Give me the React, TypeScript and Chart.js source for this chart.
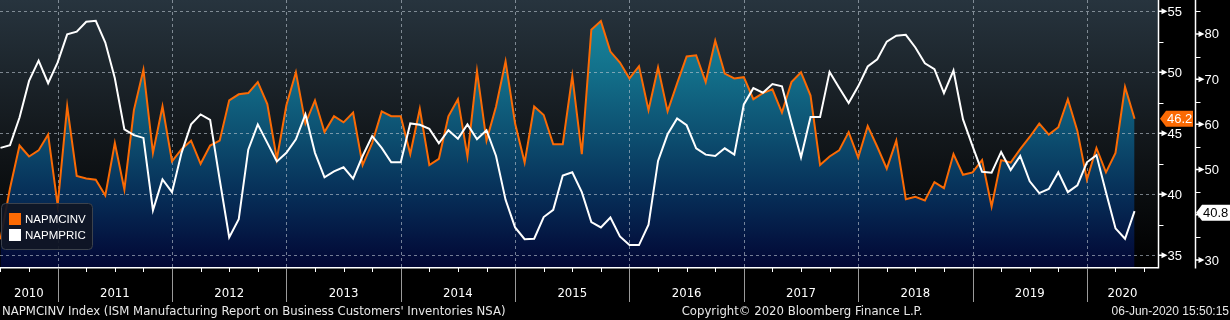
import React, { useEffect, useRef } from 'react';
import { Chart, registerables } from 'chart.js';

Chart.register(...registerables);

// First plotted month: June 2010 (month-end points)
const START_YEAR = 2010;
const START_MONTH = 6;

// NAPMCINV – ISM Customers' Inventories (inner right axis)
const napmcinv = [
  36.3, 40.5, 44.0, 43.1, 43.6, 44.9, 39.1, 47.2, 41.5, 41.3, 41.2, 39.9, 44.2, 40.4, 46.9, 50.2, 43.4, 47.2, 42.7, 43.7,
  44.4, 42.5, 44.0, 44.4, 47.7, 48.2, 48.3, 49.2, 47.4, 42.9, 47.3, 50.0, 45.8, 47.7, 45.1, 46.4, 45.9, 46.7, 42.4, 44.2,
  46.8, 46.4, 46.4, 43.3, 47.0, 42.4, 42.9, 46.4, 47.8, 43.1, 50.1, 44.4, 47.2, 50.9, 45.8, 42.6, 47.2, 46.5, 44.1, 44.1,
  49.7, 43.3, 53.5, 54.2, 51.7, 50.8, 49.5, 50.5, 46.9, 50.4, 46.8, 49.1, 51.3, 51.4, 49.2, 52.6, 49.9, 49.5, 49.6, 47.8,
  48.3, 48.6, 46.7, 49.2, 50.0, 48.1, 42.4, 43.1, 43.6, 45.1, 43.0, 45.6, 43.9, 42.1, 44.4, 39.6, 39.8, 39.5, 41.0, 40.5,
  43.3, 41.6, 41.8, 42.8, 39.0, 42.8, 42.6, 43.7, 44.7, 45.8, 44.9, 45.5, 47.8, 45.2, 41.2, 43.8, 41.8, 43.4, 48.8, 46.2,
];

// NAPMPRIC – ISM Prices Paid (outer right axis)
const napmpric = [
  54.8, 55.4, 61.5, 69.6, 74.1, 69.1, 73.7, 79.9, 80.5, 82.7, 82.9, 78.1, 70.2, 58.9, 57.6, 57.0, 41.0, 47.8, 45.0, 53.7,
  60.0, 62.2, 61.0, 47.8, 35.0, 39.0, 54.4, 60.0, 55.9, 51.8, 53.7, 56.7, 62.2, 53.7, 48.3, 49.6, 50.5, 48.0, 53.0, 57.4,
  54.8, 51.6, 51.6, 60.2, 59.9, 59.0, 55.8, 58.7, 56.8, 60.0, 56.7, 58.7, 53.0, 43.3, 37.2, 34.6, 34.7, 39.5, 41.1, 48.7,
  49.4, 45.0, 38.4, 37.2, 39.4, 35.2, 33.3, 33.3, 37.8, 51.9, 57.8, 61.3, 59.8, 54.7, 53.3, 53.0, 54.7, 53.3, 64.4, 68.0,
  67.0, 68.9, 68.4, 60.4, 52.7, 61.6, 61.6, 71.6, 68.1, 64.7, 68.4, 72.8, 74.4, 78.3, 79.6, 79.8, 77.0, 73.5, 72.2, 66.9,
  71.9, 61.1, 55.2, 49.5, 49.3, 53.9, 49.9, 53.0, 47.4, 44.8, 45.7, 49.4, 45.0, 46.5, 51.6, 53.2, 45.0, 37.0, 34.7, 40.8,
];

const yearLabels = ['2010', '2011', '2012', '2013', '2014', '2015', '2016', '2017', '2018', '2019', '2020'];
const invTicks = [35, 40, 45, 50, 55];
const invMinorTicks = [37.5, 42.5, 47.5, 52.5];
const priTicks = [30, 40, 50, 60, 70, 80];
const priMinorTicks = [35, 45, 55, 65, 75, 85];

const seriesNames = ['NAPMCINV', 'NAPMPRIC'];
const footerLeft = "NAPMCINV Index (ISM Manufacturing Report on Business Customers' Inventories NSA)";
const footerMid = 'Copyright\u00A9 2020 Bloomberg Finance L.P.';
const footerRight = '06-Jun-2020 15:50:15';

// month index (Jan 2010 = 1), point at month end
const monthIndex = napmcinv.map((_, i) => (START_YEAR - 2010) * 12 + START_MONTH + i);

const X_MIN = 5.95;
const X_MAX = 127.46;

const ORANGE = '#fb6a04';
const NARROW = '"Liberation Sans Narrow", "DejaVu Sans Condensed", "Liberation Sans", sans-serif';
const REG = '"Liberation Sans", Arial, sans-serif';

const bbgPlugin = {
  id: 'bbg',
  beforeDraw(chart: any) {
    const { ctx, chartArea: a } = chart;
    ctx.save();
    ctx.fillStyle = '#000';
    ctx.fillRect(0, 0, chart.width, chart.height);
    const g = ctx.createLinearGradient(0, a.top, 0, a.bottom);
    g.addColorStop(0, '#27343e');
    g.addColorStop(0.5, '#13181c');
    g.addColorStop(1, '#000000');
    ctx.fillStyle = g;
    ctx.fillRect(a.left, a.top, a.right - a.left, a.bottom - a.top);
    ctx.restore();
  },
  beforeDatasetsDraw(chart: any) {
    const { ctx, chartArea: a, scales } = chart;
    const x = scales.x;
    const yi = scales.yInv;
    ctx.save();
    ctx.strokeStyle = 'rgba(190,200,210,0.6)';
    ctx.lineWidth = 1;
    ctx.setLineDash([3, 3]);
    invTicks.forEach((v) => {
      const py = Math.round(yi.getPixelForValue(v)) + 0.5;
      ctx.beginPath();
      ctx.moveTo(a.left, py);
      ctx.lineTo(a.right, py);
      ctx.stroke();
    });
    yearLabels.forEach((_, k) => {
      const xv = k * 12;
      if (xv <= X_MIN || xv >= X_MAX) return;
      const px = Math.round(x.getPixelForValue(xv)) + 0.5;
      ctx.beginPath();
      ctx.moveTo(px, a.top);
      ctx.lineTo(px, a.bottom);
      ctx.stroke();
    });
    ctx.restore();
  },
  afterDraw(chart: any) {
    const { ctx, chartArea: a, scales } = chart;
    const x = scales.x;
    const yi = scales.yInv;
    const yp = scales.yPr;
    ctx.save();

    // bottom axis line
    ctx.strokeStyle = '#ffffff';
    ctx.lineWidth = 1.5;
    ctx.beginPath();
    ctx.moveTo(a.left, a.bottom + 0.75);
    ctx.lineTo(a.right, a.bottom + 0.75);
    ctx.stroke();

    // quarter ticks & year separators
    for (let m = Math.ceil(X_MIN / 3) * 3; m <= X_MAX; m += 3) {
      const px = Math.round(x.getPixelForValue(m)) + 0.5;
      if (m % 12 === 0) {
        ctx.strokeStyle = '#9a9a9a';
        ctx.lineWidth = 1;
        ctx.beginPath();
        ctx.moveTo(px, a.bottom + 1);
        ctx.lineTo(px, a.bottom + 35);
        ctx.stroke();
      } else {
        ctx.strokeStyle = '#ffffff';
        ctx.lineWidth = 1;
        ctx.beginPath();
        ctx.moveTo(px, a.bottom + 1);
        ctx.lineTo(px, a.bottom + 5);
        ctx.stroke();
      }
    }

    // year labels
    ctx.fillStyle = '#ffffff';
    ctx.font = '13px ' + NARROW;
    ctx.textAlign = 'center';
    ctx.textBaseline = 'middle';
    yearLabels.forEach((lab, k) => {
      const s = Math.max(X_MIN, k * 12);
      const e = Math.min(X_MAX, (k + 1) * 12);
      if (e <= s) return;
      const px = x.getPixelForValue((s + e) / 2);
      ctx.fillText(lab, px, a.bottom + 27);
    });

    // right axes
    const innerX = a.right + 0.5;
    const outerX = a.right + 37.5;
    ctx.strokeStyle = '#ffffff';
    ctx.lineWidth = 1.5;
    ctx.beginPath();
    ctx.moveTo(innerX, a.top);
    ctx.lineTo(innerX, a.bottom + 1.5);
    ctx.moveTo(outerX, a.top);
    ctx.lineTo(outerX, a.bottom + 1.5);
    ctx.stroke();

    const arrow = (ax: number, py: number) => {
      ctx.fillStyle = '#ffffff';
      ctx.beginPath();
      ctx.moveTo(ax, py - 0.75);
      ctx.lineTo(ax + 3, py - 0.75);
      ctx.lineTo(ax + 3, py - 3);
      ctx.lineTo(ax + 9, py);
      ctx.lineTo(ax + 3, py + 3);
      ctx.lineTo(ax + 3, py + 0.75);
      ctx.lineTo(ax, py + 0.75);
      ctx.closePath();
      ctx.fill();
    };
    const minor = (ax: number, py: number) => {
      ctx.strokeStyle = '#ffffff';
      ctx.lineWidth = 1;
      ctx.beginPath();
      ctx.moveTo(ax, Math.round(py) + 0.5);
      ctx.lineTo(ax + 5, Math.round(py) + 0.5);
      ctx.stroke();
    };

    ctx.font = '13px ' + REG;
    ctx.textAlign = 'left';
    ctx.textBaseline = 'middle';
    invTicks.forEach((v) => {
      const py = yi.getPixelForValue(v);
      arrow(innerX, py);
      ctx.fillStyle = '#ffffff';
      ctx.fillText(String(v), innerX + 9, py + 1);
    });
    invMinorTicks.forEach((v) => minor(innerX, yi.getPixelForValue(v)));
    priTicks.forEach((v) => {
      const py = yp.getPixelForValue(v);
      arrow(outerX, py);
      ctx.fillStyle = '#ffffff';
      ctx.fillText(String(v), outerX + 9, py + 1);
    });
    priMinorTicks.forEach((v) => {
      const py = yp.getPixelForValue(v);
      if (py > a.top + 2) minor(outerX, py);
    });

    // last value tags
    const lastInv = napmcinv[napmcinv.length - 1];
    const lastPri = napmpric[napmpric.length - 1];
    const tag = (tipX: number, py: number, w: number, bg: string, fg: string, txt: string) => {
      ctx.fillStyle = bg;
      ctx.beginPath();
      ctx.moveTo(tipX, py);
      ctx.lineTo(tipX + 6, py - 8);
      ctx.lineTo(tipX + w, py - 8);
      ctx.lineTo(tipX + w, py + 8);
      ctx.lineTo(tipX + 6, py + 8);
      ctx.closePath();
      ctx.fill();
      ctx.fillStyle = fg;
      ctx.font = '13px ' + REG;
      ctx.textAlign = 'left';
      ctx.textBaseline = 'middle';
      ctx.fillText(txt, tipX + 7, py + 1);
    };
    tag(a.right + 2, yi.getPixelForValue(lastInv), 33, ORANGE, '#ffffff', lastInv.toFixed(1));
    tag(a.right + 38, yp.getPixelForValue(lastPri) + 1.5, 34, '#ffffff', '#000000', lastPri.toFixed(1));

    // legend
    const lx = 1.5, ly = 203.5, lw = 91, lh = 46, r = 4;
    ctx.beginPath();
    ctx.moveTo(lx + r, ly);
    ctx.lineTo(lx + lw - r, ly);
    ctx.quadraticCurveTo(lx + lw, ly, lx + lw, ly + r);
    ctx.lineTo(lx + lw, ly + lh - r);
    ctx.quadraticCurveTo(lx + lw, ly + lh, lx + lw - r, ly + lh);
    ctx.lineTo(lx + r, ly + lh);
    ctx.quadraticCurveTo(lx, ly + lh, lx, ly + lh - r);
    ctx.lineTo(lx, ly + r);
    ctx.quadraticCurveTo(lx, ly, lx + r, ly);
    ctx.closePath();
    ctx.fillStyle = 'rgba(16,22,36,0.92)';
    ctx.fill();
    ctx.strokeStyle = '#3c424c';
    ctx.lineWidth = 1;
    ctx.stroke();
    const legendColors = [ORANGE, '#ffffff'];
    ctx.font = '11.5px ' + REG;
    ctx.textAlign = 'left';
    ctx.textBaseline = 'middle';
    seriesNames.forEach((nm, i) => {
      const cy = 219 + i * 16;
      ctx.fillStyle = legendColors[i];
      ctx.fillRect(9, cy - 6, 12, 12);
      ctx.fillStyle = '#ffffff';
      ctx.fillText(nm, 25, cy + 1);
    });

    // footer
    ctx.fillStyle = '#e8e8e8';
    ctx.font = '13px ' + NARROW;
    ctx.textBaseline = 'middle';
    ctx.textAlign = 'left';
    ctx.fillText(footerLeft, 2, 312);
    ctx.textAlign = 'center';
    ctx.fillText(footerMid, 802, 312);
    ctx.textAlign = 'right';
    ctx.font = '12px ' + REG;
    ctx.fillText(footerRight, 1229, 312);

    ctx.restore();
  },
};

export default function App() {
  const ref = useRef<HTMLCanvasElement | null>(null);
  useEffect(() => {
    const canvas = ref.current;
    if (!canvas) return;
    const fillGradient = (c: any) => {
      const chart = c.chart;
      const a = chart.chartArea;
      if (!a) return 'rgba(0,0,0,0)';
      const g = chart.ctx.createLinearGradient(0, a.top, 0, a.bottom);
      g.addColorStop(0, '#1a8da2');
      g.addColorStop(0.25, '#13728c');
      g.addColorStop(0.5, '#0d5071');
      g.addColorStop(0.75, '#062b55');
      g.addColorStop(1, '#020634');
      return g;
    };
    const chart = new Chart(canvas, {
      type: 'line',
      data: {
        datasets: [
          {
            label: seriesNames[0],
            data: napmcinv.map((v, i) => ({ x: monthIndex[i], y: v })),
            yAxisID: 'yInv',
            borderColor: ORANGE,
            borderWidth: 2,
            pointRadius: 0,
            tension: 0,
            fill: 'start',
            backgroundColor: fillGradient,
            order: 2,
          },
          {
            label: seriesNames[1],
            data: napmpric.map((v, i) => ({ x: monthIndex[i], y: v })),
            yAxisID: 'yPr',
            borderColor: '#ffffff',
            borderWidth: 2,
            pointRadius: 0,
            tension: 0,
            fill: false,
            order: 1,
          },
        ],
      },
      options: {
        animation: false,
        responsive: false,
        devicePixelRatio: 1,
        events: [],
        layout: { padding: { left: 0, top: 0, right: 72, bottom: 53 } },
        scales: {
          x: { type: 'linear', min: X_MIN, max: X_MAX, display: false },
          yInv: { type: 'linear', position: 'right', min: 34.04, max: 55.93, display: false },
          yPr: { type: 'linear', position: 'right', min: 28.45, max: 87.5, display: false },
        },
        plugins: {
          legend: { display: false },
          tooltip: { enabled: false },
          filler: { drawTime: 'beforeDatasetsDraw', propagate: false },
        },
      } as any,
      plugins: [bbgPlugin],
    });
    return () => chart.destroy();
  }, []);
  return (
    <div style={{ position: 'fixed', left: 0, top: 0, width: 1230, height: 320, background: '#000' }}>
      <canvas ref={ref} width={1230} height={320} style={{ display: 'block', width: 1230, height: 320 }} />
    </div>
  );
}
